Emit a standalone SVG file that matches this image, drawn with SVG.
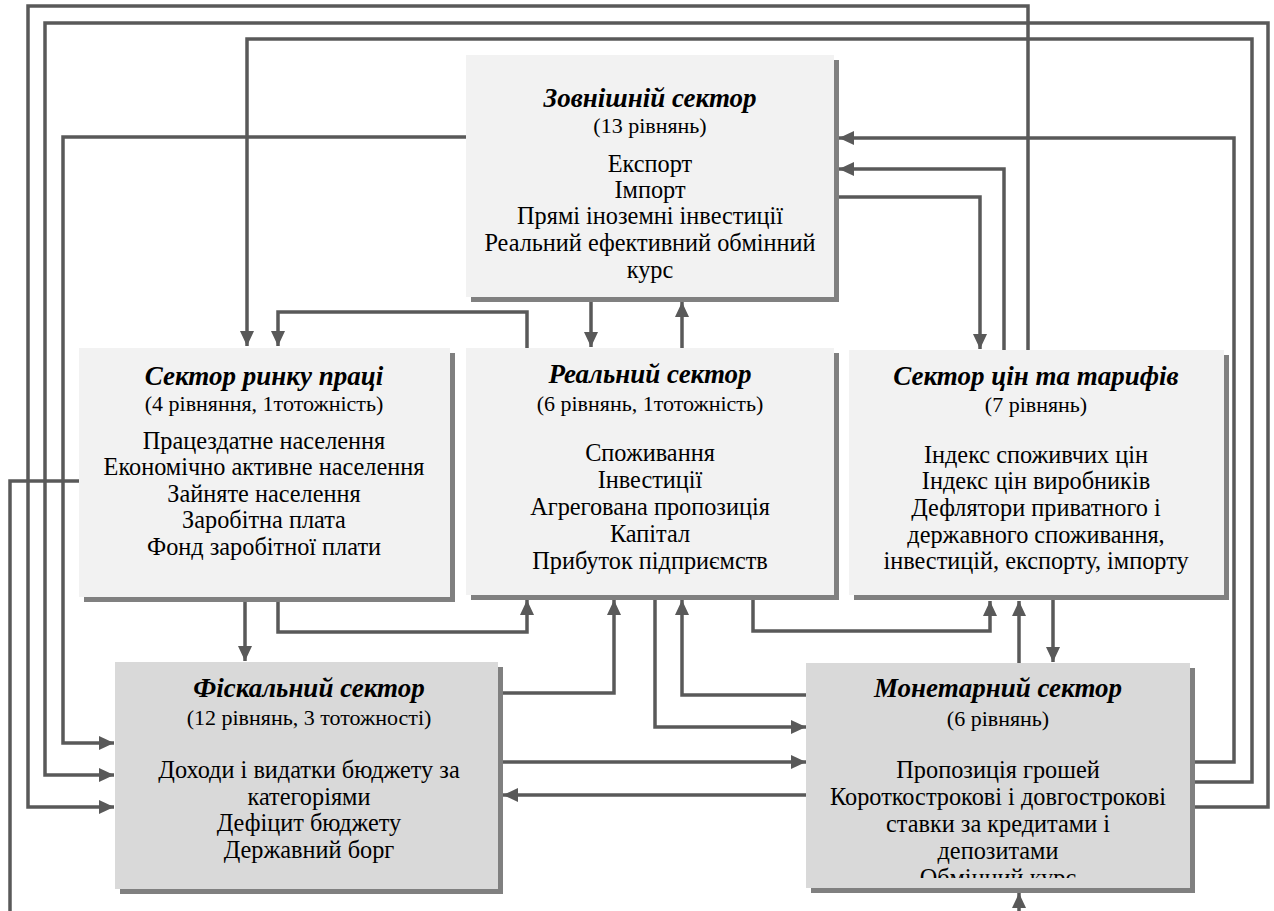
<svg xmlns="http://www.w3.org/2000/svg" width="1274" height="911" viewBox="0 0 1274 911">
  <style>
    .shadow { fill: #808080; }
    .light { fill: #f2f2f2; }
    .dark { fill: #d9d9d9; }
    .t { font-family: "Liberation Serif", "Times New Roman", serif; font-size: 24.3px; fill: #000; text-anchor: middle; }
    .h { font-weight: bold; font-style: italic; font-size: 27px; }
    .s { font-size: 22px; }
    .link { fill: none; stroke: #595959; stroke-width: 3.5; stroke-linejoin: miter; }
    .arrow { marker-end: url(#arr); }
  </style>
  <defs>
    <marker id="arr" markerUnits="userSpaceOnUse" markerWidth="15" markerHeight="14" refX="15" refY="7" orient="auto">
      <path d="M0,0 L15,7 L0,14 z" fill="#595959"/>
    </marker>
    <clipPath id="monClip">
      <rect x="806" y="663" width="383" height="215"/>
    </clipPath>
  </defs>

  <!-- connectors -->
  <g id="connectors">
    <path class="link arrow" d="M1195 782 H1252 V39 H247 V346"/>
    <path class="link arrow" d="M1195 807 H1268 V23 H45 V775 H114"/>
    <path class="link arrow" d="M1028 350 V6 H28 V807 H114"/>
    <path class="link arrow" d="M1195 762 H1234 V138 H839"/>
    <path class="link arrow" d="M466 137 H63 V743 H114"/>
    <path class="link arrow" d="M1004 350 V169 H839"/>
    <path class="link arrow" d="M839 197 H980 V349"/>
    <path class="link arrow" d="M591 302 V347"/>
    <path class="link arrow" d="M682 348 V302"/>
    <path class="link arrow" d="M527 348 V312 H278 V346"/>
    <path class="link arrow" d="M245 602 V661"/>
    <path class="link arrow" d="M278 602 V632 H527 V600"/>
    <path class="link arrow" d="M503 693 H614 V600"/>
    <path class="link arrow" d="M655 599 V727 H806"/>
    <path class="link arrow" d="M806 695 H682 V600"/>
    <path class="link arrow" d="M503 762 H806"/>
    <path class="link arrow" d="M806 795 H503"/>
    <path class="link arrow" d="M753 599 V631 H990 V601"/>
    <path class="link arrow" d="M1019 663 V601"/>
    <path class="link arrow" d="M1053 600 V662"/>
    <path class="link" d="M79 481 H10 V911"/>
    <path class="link arrow" d="M1019 911 V893"/>
  </g>

  <!-- external sector -->
  <g id="external">
    <rect class="shadow" x="471" y="60" width="368" height="242"/>
    <rect class="light" x="466" y="55" width="368" height="242"/>
    <text class="t h" x="650" y="107">Зовнішній сектор</text>
    <text class="t s" x="650" y="133">(13 рівнянь)</text>
    <text class="t" x="650" y="172">Експорт</text>
    <text class="t" x="650" y="198">Імпорт</text>
    <text class="t" x="650" y="224">Прямі іноземні інвестиції</text>
    <text class="t" x="650" y="251">Реальний ефективний обмінний</text>
    <text class="t" x="650" y="278">курс</text>
  </g>

  <!-- labour market sector -->
  <g id="labour">
    <rect class="shadow" x="84" y="353" width="371" height="249"/>
    <rect class="light" x="79" y="348" width="371" height="249"/>
    <text class="t h" x="264" y="385">Сектор ринку праці</text>
    <text class="t s" x="264" y="411">(4 рівняння, 1тотожність)</text>
    <text class="t" x="264" y="449">Працездатне населення</text>
    <text class="t" x="264" y="475">Економічно активне населення</text>
    <text class="t" x="264" y="502">Зайняте населення</text>
    <text class="t" x="264" y="528">Заробітна плата</text>
    <text class="t" x="264" y="555">Фонд заробітної плати</text>
  </g>

  <!-- real sector -->
  <g id="real">
    <rect class="shadow" x="471" y="353" width="368" height="247"/>
    <rect class="light" x="466" y="348" width="368" height="247"/>
    <text class="t h" x="650" y="383">Реальний сектор</text>
    <text class="t s" x="650" y="411">(6 рівнянь, 1тотожність)</text>
    <text class="t" x="650" y="461">Споживання</text>
    <text class="t" x="650" y="488">Інвестиції</text>
    <text class="t" x="650" y="515">Агрегована пропозиція</text>
    <text class="t" x="650" y="542">Капітал</text>
    <text class="t" x="650" y="569">Прибуток підприємств</text>
  </g>

  <!-- prices and tariffs sector -->
  <g id="prices">
    <rect class="shadow" x="854" y="355" width="375" height="245"/>
    <rect class="light" x="849" y="350" width="375" height="245"/>
    <text class="t h" x="1036" y="385">Сектор цін та тарифів</text>
    <text class="t s" x="1036" y="412">(7 рівнянь)</text>
    <text class="t" x="1036" y="463">Індекс споживчих цін</text>
    <text class="t" x="1036" y="489">Індекс цін виробників</text>
    <text class="t" x="1036" y="516">Дефлятори приватного і</text>
    <text class="t" x="1036" y="543">державного споживання,</text>
    <text class="t" x="1036" y="569">інвестицій, експорту, імпорту</text>
  </g>

  <!-- fiscal sector -->
  <g id="fiscal">
    <rect class="shadow" x="120" y="667" width="383" height="227"/>
    <rect class="dark" x="115" y="662" width="383" height="227"/>
    <text class="t h" x="309" y="697">Фіскальний сектор</text>
    <text class="t s" x="309" y="725">(12 рівнянь, 3 тотожності)</text>
    <text class="t" x="309" y="778">Доходи і видатки бюджету за</text>
    <text class="t" x="309" y="805">категоріями</text>
    <text class="t" x="309" y="831">Дефіцит бюджету</text>
    <text class="t" x="309" y="858">Державний борг</text>
  </g>

  <!-- monetary sector -->
  <g id="monetary">
    <rect class="shadow" x="811" y="668" width="384" height="225"/>
    <rect class="dark" x="806" y="663" width="384" height="225"/>
    <g clip-path="url(#monClip)">
      <text class="t h" x="998" y="697">Монетарний сектор</text>
      <text class="t s" x="998" y="726">(6 рівнянь)</text>
      <text class="t" x="998" y="778">Пропозиція грошей</text>
      <text class="t" x="998" y="805">Короткострокові і довгострокові</text>
      <text class="t" x="998" y="832">ставки за кредитами і</text>
      <text class="t" x="998" y="859">депозитами</text>
      <text class="t" x="998" y="886">Обмінний курс</text>
    </g>
  </g>
</svg>
